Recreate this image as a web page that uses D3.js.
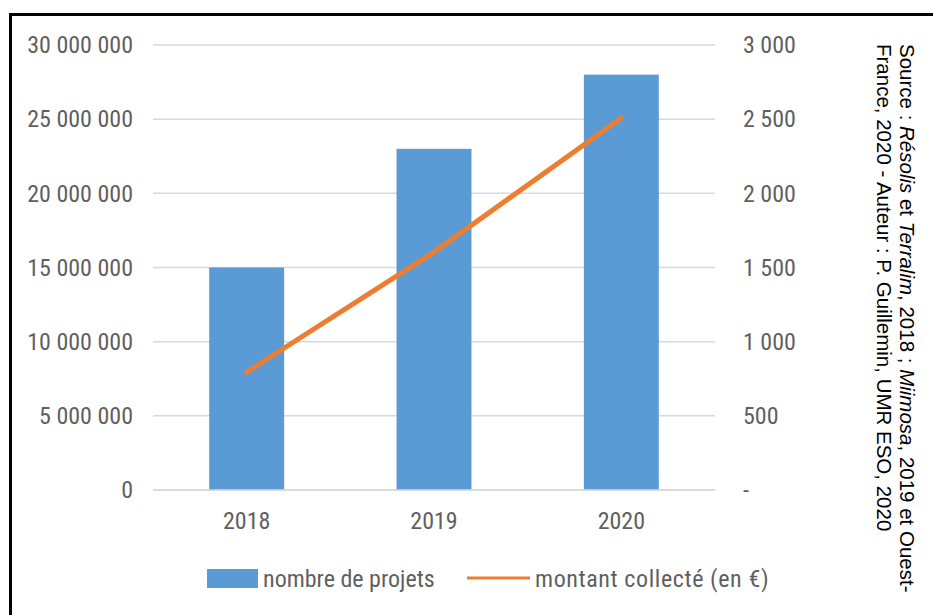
<!DOCTYPE html>
<html><head><meta charset="utf-8">
<script src="https://cdn.jsdelivr.net/npm/d3@7"></script>
<style>
body{margin:0;background:#fff;}
svg text{font-family:"Liberation Sans Narrow","Roboto Condensed","Liberation Sans",sans-serif;}
</style></head>
<body><svg id="c" width="933" height="615"></svg>
<script>
const years = ["2018","2019","2020"];
const nombreProjets = [15000000, 23000000, 28000000];
const montantCollecte = [795, 1604, 2508];
const leftTicks = [0,5000000,10000000,15000000,20000000,25000000,30000000];
const rightTicks = [0,500,1000,1500,2000,2500,3000];
const seriesNames = ["nombre de projets","montant collecté (en €)"];

const svg = d3.select("#c");
svg.append("rect").attr("width",933).attr("height",615).attr("fill","#fff");
svg.append("rect").attr("x",10.5).attr("y",14.5).attr("width",1000).attr("height",1000)
  .attr("fill","none").attr("stroke","#000").attr("stroke-width",3);

const x0=153, x1=715, yTop=45, yBot=490;
const x = d3.scaleBand().domain(years).range([x0,x1]).paddingInner(0.6).paddingOuter(0.3);
const yL = d3.scaleLinear().domain([0,30000000]).range([yBot,yTop]);
const yR = d3.scaleLinear().domain([0,3000]).range([yBot,yTop]);
const fmt = v => v===0 ? "0" : d3.format(",")(v).replace(/,/g," ");
const fmtR = v => v===0 ? "-" : d3.format(",")(v).replace(/,/g," ");

// gridlines
svg.append("g").selectAll("line").data(leftTicks).join("line")
  .attr("x1",x0).attr("x2",x1).attr("y1",d=>yL(d)).attr("y2",d=>yL(d))
  .attr("stroke","#d9d9d9").attr("stroke-width",1.5);

// left axis
const gl = svg.append("g").attr("transform",`translate(${x0},0)`)
  .call(d3.axisLeft(yL).tickValues(leftTicks).tickFormat(fmt).tickSize(0).tickPadding(20));
gl.select(".domain").remove();
gl.selectAll("text").attr("font-size",24).attr("fill","#5f5f5f");

// right axis
const gr = svg.append("g").attr("transform",`translate(${x1},0)`)
  .call(d3.axisRight(yR).tickValues(rightTicks).tickFormat(fmtR).tickSize(0).tickPadding(28));
gr.select(".domain").remove();
gr.selectAll("text").attr("font-size",24).attr("fill","#5f5f5f");

// bars
svg.append("g").selectAll("rect").data(years).join("rect")
  .attr("x",d=>x(d)).attr("width",x.bandwidth())
  .attr("y",(d,i)=>yL(nombreProjets[i])).attr("height",(d,i)=>yBot-yL(nombreProjets[i]))
  .attr("fill","#5b9bd5");

// bottom axis line
svg.append("line").attr("x1",x0).attr("x2",x1).attr("y1",yBot).attr("y2",yBot)
  .attr("stroke","#d9d9d9").attr("stroke-width",1.5);

// x axis
const gx = svg.append("g").attr("transform",`translate(0,${yBot})`)
  .call(d3.axisBottom(x).tickSize(0).tickPadding(22));
gx.select(".domain").remove();
gx.selectAll("text").attr("font-size",24).attr("fill","#5f5f5f");

// line
const line = d3.line().x((d,i)=>x(years[i])+x.bandwidth()/2).y(d=>yR(d));
svg.append("path").datum(montantCollecte).attr("d",line)
  .attr("fill","none").attr("stroke","#ed7d31").attr("stroke-width",5).attr("stroke-linecap","round");

// legend
const lg = svg.append("g");
lg.append("rect").attr("x",207).attr("y",569).attr("width",51).attr("height",19).attr("fill","#5b9bd5");
lg.append("text").attr("x",263).attr("y",587).attr("font-size",24).attr("fill","#5f5f5f").text(seriesNames[0]);
lg.append("line").attr("x1",467).attr("x2",530).attr("y1",578).attr("y2",578).attr("stroke","#ed7d31").attr("stroke-width",3);
lg.append("text").attr("x",535).attr("y",587).attr("font-size",24).attr("fill","#5f5f5f").attr("letter-spacing",0.6).text(seriesNames[1]);

// source (rotated)
const src = svg.append("text").attr("transform","translate(900,44) rotate(90)")
  .attr("font-size",20.5).attr("fill","#000").style("font-family","'Liberation Sans',sans-serif");
const t1 = src.append("tspan").attr("x",0).attr("y",0);
[["Source : ",false],["Résolis",true],[" et ",false],["Terralim",true],[", 2018 ; ",false],["Miimosa",true],[", 2019 et Ouest-",false]]
  .forEach(([t,it])=>t1.append("tspan").attr("font-style",it?"italic":"normal").text(t));
src.append("tspan").attr("x",0).attr("y",23).text("France, 2020 - Auteur : P. Guillemin, UMR ESO, 2020");
</script></body></html>
